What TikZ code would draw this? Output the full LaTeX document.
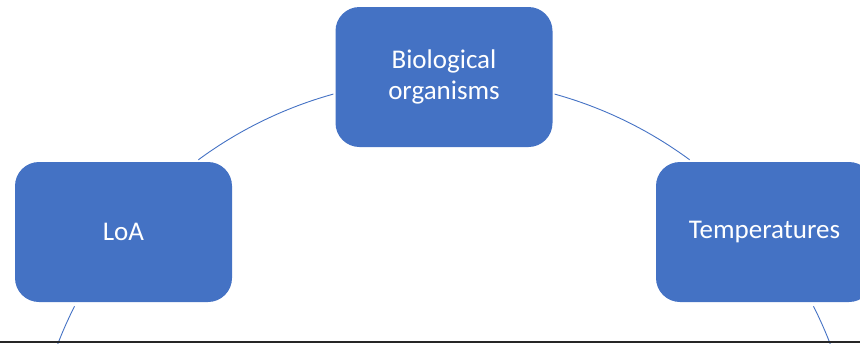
\documentclass[tikz,border=0pt]{standalone}
\usepackage{fontspec}
\setmainfont{Carlito}
\definecolor{officeblue}{HTML}{4472C4}
\tikzset{
  topicbox/.style={draw=none, fill=officeblue, rounded corners=24pt, minimum width=217pt,
    minimum height=140pt, inner sep=0pt, text=white, align=center,
    font=\fontsize{27}{31}\selectfont},
  cycleline/.style={draw=officeblue, line width=0.9pt}
}
\begin{document}
\begin{tikzpicture}[x=1pt, y=1pt]
\useasboundingbox (0,0) rectangle (860,-343);
\clip (0,0) rectangle (860,-343);

% the three boxes
\node[topicbox] (bio) at (444,-77) {Biological\\organisms};
\node[topicbox] (loa) at (123.5,-232) {LoA};
\node[topicbox] (temp) at (764.5,-232) {Temperatures};

% circle the boxes sit on
\coordinate (hub) at (444,-493);
\coordinate (loaout) at ([shift={(153.2:414)}]hub);
\coordinate (loain) at ([shift={(126.4:414)}]hub);
\coordinate (bioin) at ([shift={(105.5:414)}]hub);
\coordinate (bioout) at ([shift={(74.5:414)}]hub);
\coordinate (tempin) at ([shift={(53.6:414)}]hub);
\coordinate (tempout) at ([shift={(26.8:414)}]hub);

\draw[cycleline] (loain) arc[start angle=126.4, end angle=105.5, radius=414];
\draw[cycleline] (bioout) arc[start angle=74.5, end angle=53.6, radius=414];
\draw[cycleline] (tempout) arc[start angle=26.8, end angle=15, radius=414];
\draw[cycleline] (loaout) arc[start angle=153.2, end angle=165, radius=414];

% bottom rule
\draw[line width=2pt, black!85] (0,-341.5) -- (860,-341.5);
\end{tikzpicture}
\end{document}
